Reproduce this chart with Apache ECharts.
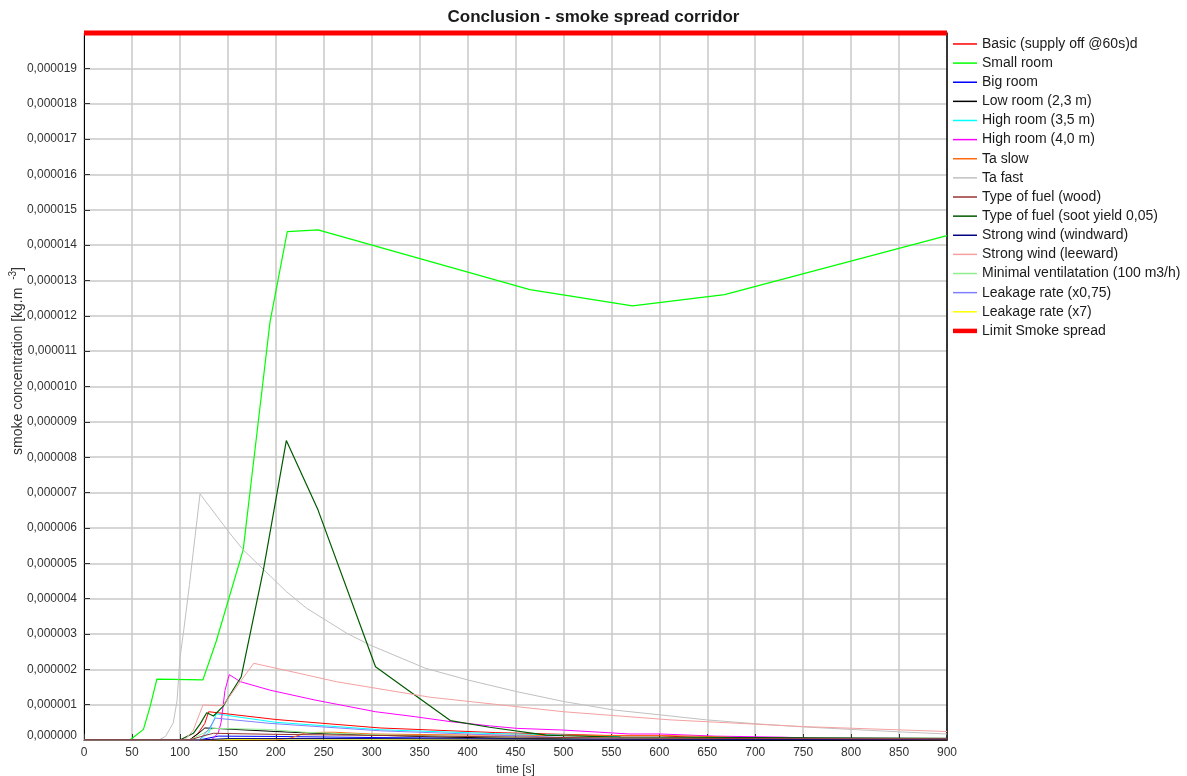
<!DOCTYPE html>
<html>
<head>
<meta charset="utf-8">
<script src="https://cdn.jsdelivr.net/npm/echarts@6/dist/echarts.min.js"></script>
<style>
html,body{margin:0;padding:0;background:#fff;}
#chart{width:1187px;height:776px;}
</style>
</head>
<body>
<div id="chart"></div>
<script>
// values in 1e-6 kg.m-3, time in s
const SCALE = 1e-6;

const basicT = [0,110,119,126,130,200,309,429,500,555,600,642,790,900];
const basicV = [0,0,0.19,0.47,0.8,0.58,0.34,0.21,0.16,0.12,0.12,0.07,0.03,0.02];

const smallT = [0,48,62,69,76,124,138,166,182,194,212,244,465,572,668,900];
const smallV = [0,0,0.3,0.95,1.72,1.7,2.8,5.38,9.06,11.83,14.38,14.43,12.74,12.28,12.6,14.27];

const bigT = [0,120,140,200,300,400,500,900];
const bigV = [0,0,0.11,0.1,0.07,0.05,0.03,0.02];

const lowT = [0,110,120,126,135,200,240,300,350,400,500,900];
const lowV = [0,0,0.2,0.34,0.33,0.24,0.19,0.14,0.1,0.07,0.04,0.02];

const high35T = [0,120,130,138,200,309,429,500,555,565,900];
const high35V = [0,0,0.2,0.74,0.5,0.29,0.18,0.14,0.1,0.05,0.03];

const high40T = [0,133,140,143,147,151.5,163,194,241,304,345,382,423,451,500,538,569,601,658,729,760,900];
const high40V = [0,0,0.2,0.5,1.4,1.85,1.65,1.41,1.13,0.8,0.66,0.52,0.4,0.33,0.28,0.22,0.17,0.17,0.11,0.08,0.05,0.04];

const taSlowT = [0,200,215,232,260,300,400,500,600,650,700,750,900];
const taSlowV = [0,0,0.05,0.21,0.22,0.17,0.14,0.13,0.13,0.1,0.05,0.02,0.01];

const taFastT = [0,78,85,93,97,100,104,110,121,152,166,211,232,274,298,356,400,451,500,552,601,649,700,750,800,850,900];
const taFastV = [0,0,0.1,0.48,1.1,2.3,3.1,4.4,6.96,5.85,5.38,4.2,3.73,3.02,2.69,2.03,1.7,1.37,1.09,0.85,0.71,0.57,0.46,0.37,0.3,0.23,0.17];

const woodT = [0,110,125,135,200,300,400,500,600,700,900];
const woodV = [0,0,0.12,0.19,0.16,0.13,0.1,0.07,0.05,0.04,0.03];

const sootT = [0,100,114,121,128,135,145,155,164,187,211,244,304,338,382,423,482,500,560,900];
const sootV = [0,0,0.19,0.45,0.77,0.68,0.95,1.4,1.79,4.8,8.47,6.51,2.07,1.41,0.55,0.36,0.14,0.12,0.08,0.05];

const windT = [0,120,150,300,500,900];
const windV = [0,0,0.04,0.04,0.02,0.01];

const leeT = [0,105,114,124,138,145,177,232,263,361,500,611,750,900];
const leeV = [0,0,0.28,0.99,0.97,0.98,2.17,1.84,1.65,1.21,0.8,0.57,0.38,0.24];

const minVentT = [0,110,125,135,190,230,300,400,500,900];
const minVentV = [0,0,0.2,0.33,0.3,0.22,0.15,0.1,0.06,0.02];

const leak075T = [0,120,130,137,194,309,400,450,500,560,900];
const leak075V = [0,0,0.3,0.62,0.47,0.26,0.17,0.12,0.07,0.03,0.01];

const leak7T = [0,130,200,400,900];
const leak7V = [0,0,0.03,0.02,0.01];

const limitT = [0,900];
const limitV = [20,20];

const seriesDefs = [
  {name:'Basic (supply off @60s)d', t:basicT, v:basicV, color:'#ff0000', w:1},
  {name:'Small room', t:smallT, v:smallV, color:'#00ff00', w:1.2},
  {name:'Big room', t:bigT, v:bigV, color:'#0000ff', w:1},
  {name:'Low room (2,3 m)', t:lowT, v:lowV, color:'#000000', w:1},
  {name:'High room (3,5 m)', t:high35T, v:high35V, color:'#00ffff', w:1},
  {name:'High room (4,0 m)', t:high40T, v:high40V, color:'#ff00ff', w:1},
  {name:'Ta slow', t:taSlowT, v:taSlowV, color:'#ff6a10', w:1},
  {name:'Ta fast', t:taFastT, v:taFastV, color:'#c0c0c0', w:1},
  {name:'Type of fuel (wood)', t:woodT, v:woodV, color:'#993333', w:1, z:4},
  {name:'Type of fuel (soot yield 0,05)', t:sootT, v:sootV, color:'#005a00', w:1.2},
  {name:'Strong wind (windward)', t:windT, v:windV, color:'#000080', w:1, z:3},
  {name:'Strong wind (leeward)', t:leeT, v:leeV, color:'#f4a0a0', w:1},
  {name:'Minimal ventilatation (100 m3/h)', t:minVentT, v:minVentV, color:'#90ee90', w:1},
  {name:'Leakage rate (x0,75)', t:leak075T, v:leak075V, color:'#8080ff', w:1},
  {name:'Leakage rate (x7)', t:leak7T, v:leak7V, color:'#ffff00', w:1},
  {name:'Limit Smoke spread', t:limitT, v:limitV, color:'#ff0000', w:5, z:5}
];

const FONT = '"Liberation Sans", Arial, sans-serif';
const fmt = v => (v).toFixed(6).replace('.', ',');

const series = seriesDefs.map(d => ({
  name: d.name,
  type: 'line',
  symbol: 'none',
  showSymbol: false,
  clip: d.w < 3,
  z: d.z || 2,
  animation: false,
  color: d.color,
  lineStyle: {color: d.color, width: d.w},
  data: d.t.map((x, i) => [x, d.v[i] * SCALE])
}));

const chart = echarts.init(document.getElementById('chart'), null, {renderer: 'canvas'});
chart.setOption({
  animation: false,
  backgroundColor: '#ffffff',
  title: {
    text: 'Conclusion - smoke spread corridor',
    left: 'center',
    top: 4,
    textStyle: {fontFamily: FONT, fontSize: 17, fontWeight: 'bold', color: '#1a1a1a'}
  },
  grid: {left: 84, right: 240, top: 33, bottom: 36, show: false, containLabel: false, outerBoundsMode: 'none'},
  legend: {
    orient: 'vertical',
    left: 948,
    top: 29.4,
    itemWidth: 24,
    itemHeight: 14,
    itemGap: 0,
    textStyle: {fontFamily: FONT, fontSize: 14, color: '#1a1a1a', lineHeight: 19.13, height: 19.13},
    data: seriesDefs.map(d => ({
      name: d.name,
      icon: d.w > 3 ? 'path://M0,0H24V4.5H0Z' : 'path://M0,0H24V1.5H0Z'
    }))
  },
  xAxis: {
    type: 'value',
    min: 0, max: 900, interval: 50,
    name: 'time [s]',
    nameLocation: 'middle',
    nameGap: 24,
    nameTextStyle: {fontFamily: FONT, fontSize: 12, color: '#333'},
    axisLine: {lineStyle: {color: '#000', width: 1}},
    axisTick: {inside: true, length: 6, lineStyle: {color: '#333'}},
    axisLabel: {fontFamily: FONT, fontSize: 12, color: '#333', margin: 7},
    splitLine: {show: true, lineStyle: {color: '#c8c8c8', width: 1.5}}
  },
  yAxis: [{
    type: 'value',
    min: 0, max: 0.00002, interval: 0.000001,
    axisLine: {show: true, lineStyle: {color: '#000', width: 1}},
    axisTick: {inside: true, length: 6, lineStyle: {color: '#333'}},
    axisLabel: {
      fontFamily: FONT, fontSize: 12, color: '#333', margin: 7,
      showMaxLabel: false,
      formatter: v => (Math.abs(v) < 1e-12 ? '{z|' + fmt(0) + '}' : fmt(v)),
      rich: {z: {fontFamily: FONT, fontSize: 12, color: '#333', padding: [0, 0, 8, 0]}}
    },
    splitLine: {show: true, lineStyle: {color: '#c8c8c8', width: 1.5}}
  }, {
    type: 'value',
    position: 'right',
    min: 0, max: 0.00002, interval: 0.000001,
    axisLine: {show: true, onZero: false, lineStyle: {color: '#000', width: 1.5}},
    axisTick: {show: false},
    axisLabel: {show: false},
    splitLine: {show: false}
  }],
  graphic: [{
    type: 'text',
    rotation: Math.PI / 2,
    x: 18,
    y: 361,
    style: {
      text: 'smoke concentration [kg.m  {s|-3}]',
      fontFamily: FONT, fontSize: 14, fill: '#333',
      align: 'center', verticalAlign: 'middle',
      rich: {s: {fontSize: 10, padding: [0,0,9,0], fill: '#333'}}
    }
  }],
  series: series
});
</script>
</body>
</html>
